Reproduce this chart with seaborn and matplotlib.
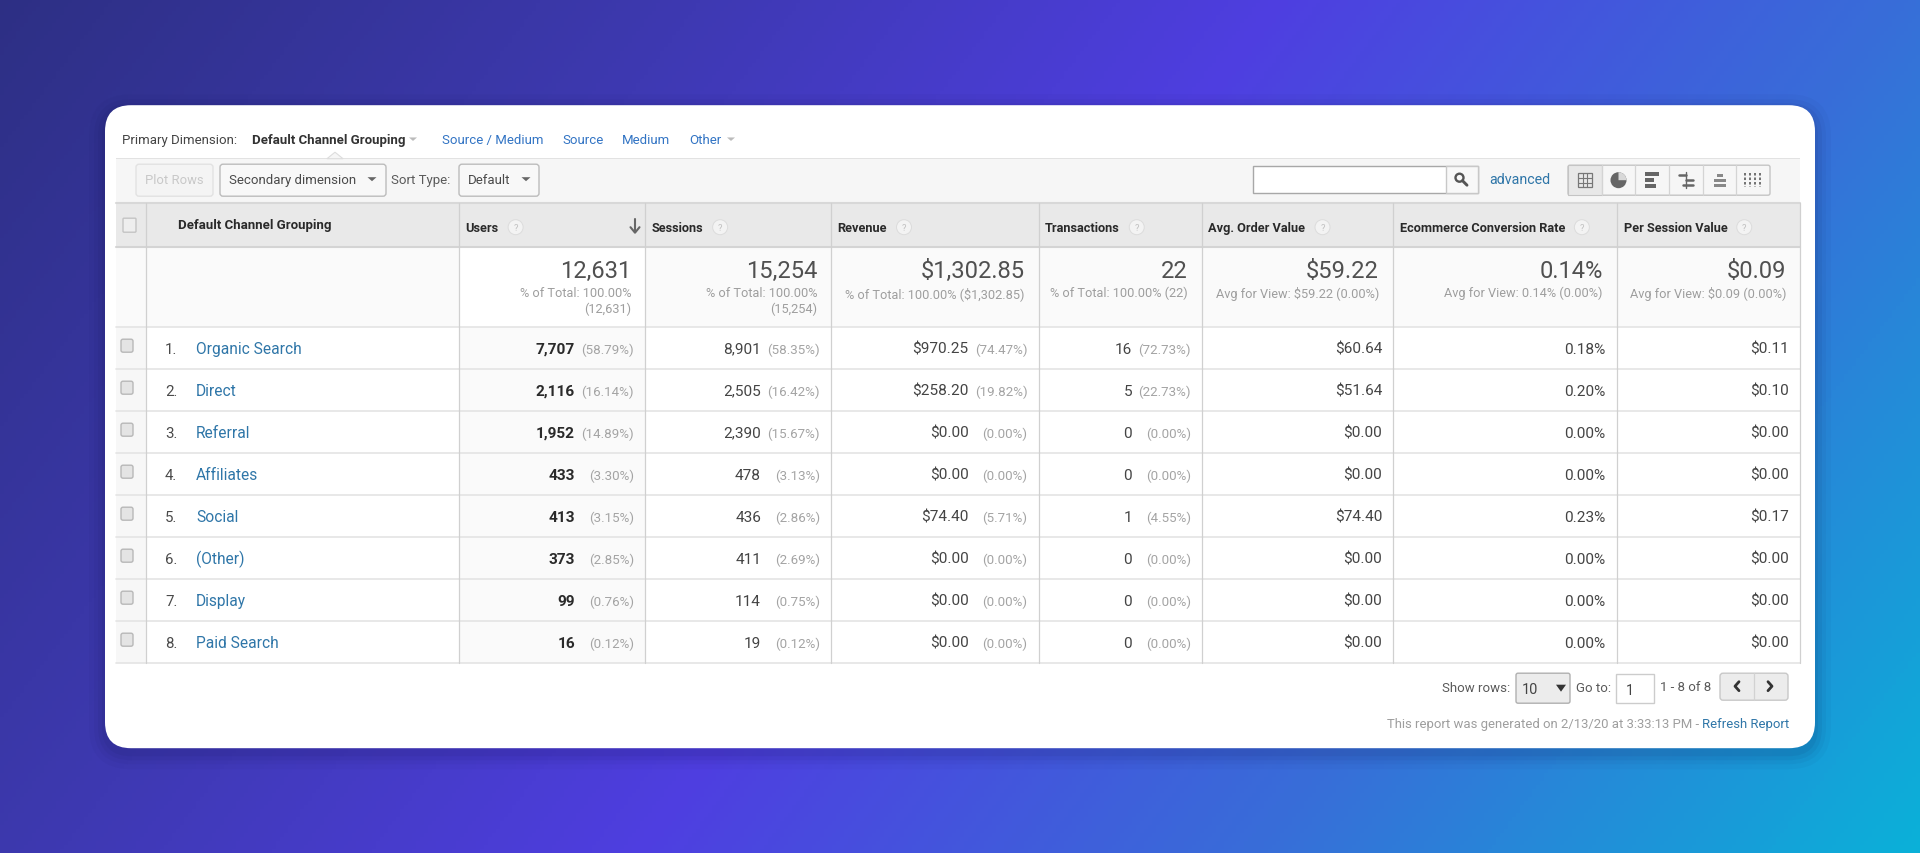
import matplotlib
matplotlib.use("Agg")
import matplotlib.pyplot as plt
from matplotlib.colors import LinearSegmentedColormap
from matplotlib.patches import Rectangle, FancyBboxPatch, Circle, Polygon, Wedge
import numpy as np
import seaborn as sns

# ---------- data ----------
channels = ["Organic Search", "Direct", "Referral", "Affiliates", "Social", "(Other)", "Display", "Paid Search"]
users = [7707, 2116, 1952, 433, 413, 373, 99, 16]
users_pct = [58.79, 16.14, 14.89, 3.30, 3.15, 2.85, 0.76, 0.12]
sessions = [8901, 2505, 2390, 478, 436, 411, 114, 19]
sessions_pct = [58.35, 16.42, 15.67, 3.13, 2.86, 2.69, 0.75, 0.12]
revenue = [970.25, 258.20, 0, 0, 74.40, 0, 0, 0]
revenue_pct = [74.47, 19.82, 0, 0, 5.71, 0, 0, 0]
transactions = [16, 5, 0, 0, 1, 0, 0, 0]
transactions_pct = [72.73, 22.73, 0, 0, 4.55, 0, 0, 0]
avg_order = [60.64, 51.64, 0, 0, 74.40, 0, 0, 0]
conv_rate = [0.18, 0.20, 0, 0, 0.23, 0, 0, 0]
per_session = [0.11, 0.10, 0, 0, 0.17, 0, 0, 0]
headers = ["Users", "Sessions", "Revenue", "Transactions", "Avg. Order Value",
           "Ecommerce Conversion Rate", "Per Session Value"]
totals = ["12,631", "15,254", "$1,302.85", "22", "$59.22", "0.14%", "$0.09"]
totals_sub = [["% of Total: 100.00%", "(12,631)"], ["% of Total: 100.00%", "(15,254)"],
              ["% of Total: 100.00% ($1,302.85)"], ["% of Total: 100.00% (22)"],
              ["Avg for View: $59.22 (0.00%)"], ["Avg for View: 0.14% (0.00%)"],
              ["Avg for View: $0.09 (0.00%)"]]

# ---------- styles ----------
sns.set_theme(style="white")
plt.rcParams["font.family"] = ["Roboto", "DejaVu Sans"]
W, H = 1920, 854
BLUE = "#2f76a8"
LINK = "#3274c4"
DARK = "#444444"
GREY = "#a4a4a4"
LINE = "#e4e4e4"
VLINE = "#d0d0d0"


def px(size):
    return size * 0.72


fig = plt.figure(figsize=(W / 100, H / 100), dpi=100)

# backdrop gradient
bg_ax = fig.add_axes([0, 0, 1, 1])
gx, gy = np.meshgrid(np.linspace(0, 1, 480), np.linspace(0, 1, 214))
bg_field = 0.75 * gx + 0.25 * gy
bg_cmap = LinearSegmentedColormap.from_list("bg", [
    (0.00, "#2d2f84"), (0.25, "#3c38ad"), (0.50, "#4e3ee0"),
    (0.75, "#376ed8"), (1.00, "#0ab0d8")])
sns.heatmap(bg_field, ax=bg_ax, cmap=bg_cmap, vmin=0, vmax=1, cbar=False,
            xticklabels=False, yticklabels=False, rasterized=True)

ax = fig.add_axes([0, 0, 1, 1], facecolor="none")
ax.set_xlim(0, W)
ax.set_ylim(H - 1.2, -1.2)
ax.axis("off")


def rect(x0, y0, x1, y1, fc="none", ec="none", lw=0, z=2, **kw):
    ax.add_patch(Rectangle((x0, y0), x1 - x0, y1 - y0, fc=fc, ec=ec, lw=lw, zorder=z, **kw))


def rbox(x0, y0, x1, y1, r=3, fc="white", ec="#cccccc", lw=1, z=3, alpha=None):
    ax.add_patch(FancyBboxPatch((x0 + r, y0 + r), x1 - x0 - 2 * r, y1 - y0 - 2 * r,
                                boxstyle=f"round,pad={r},rounding_size={r}",
                                fc=fc, ec=ec, lw=lw, zorder=z, alpha=alpha))


def txt(x, y, s, size=13, color=DARK, ha="left", weight="normal", z=5):
    return ax.text(x, y, s, fontsize=px(size), color=color, ha=ha, va="center",
                   fontweight=weight, zorder=z, family=["Roboto", "DejaVu Sans"])


def caret(x, y, w=5, h=5, color="#666666", up=False):
    d = -h if up else h
    ax.add_patch(Polygon([(x - w, y - d / 2), (x + w, y - d / 2), (x, y + d / 2)],
                         closed=True, fc=color, ec="none", zorder=6))


# card with shadow
for grow, a in [(16, 0.03), (11, 0.04), (7, 0.05), (3, 0.06)]:
    rbox(105 - grow, 105 - grow + 5, 1815 + grow, 748 + grow + 5, r=26 + grow,
         fc="#101040", ec="none", lw=0, z=1, alpha=a)
rbox(105, 105, 1815, 748, r=26, fc="white", ec="none", lw=0, z=2)

# geometry of the table
col_x = [459, 645, 831, 1038.5, 1202, 1393, 1617, 1800]
left, chk, top_bar, head_top, head_bot, tot_bot, row_h = 116, 146, 158, 203, 247, 327, 42
bottom = tot_bot + row_h * len(channels)

# primary dimension row
txt(122, 139, "Primary Dimension:", 13.2, "#444444")
txt(252, 139, "Default Channel Grouping", 13.2, "#333333", weight="bold")
caret(413, 139, 4, 3.5, "#bbbbbb")
for x, s in [(442, "Source / Medium"), (562, "Source"), (622, "Medium"), (689, "Other")]:
    txt(x, 139, s, 13.2, LINK)
caret(731, 139, 4, 3.5, "#bbbbbb")

# toolbar
rect(left, top_bar, col_x[-1], head_top, fc="#f6f6f6", z=3)
rect(left, top_bar - 0.5, col_x[-1], top_bar + 0.5, fc="#e2e2e2", z=4)
ax.add_patch(Polygon([(327, 158.5), (335, 152), (343, 158.5)], closed=True, fc="#f6f6f6",
                     ec="#dddddd", lw=0.8, zorder=4))
rbox(136, 164, 213, 196, fc="#f4f4f4", ec="#e2e2e2")
txt(174.5, 179.5, "Plot Rows", 13, "#c8c8c8", ha="center")
rbox(220, 164, 386, 196, fc="#f8f8f8", ec="#bcbcbc")
txt(229, 179.5, "Secondary dimension", 13.2, "#4a4a4a")
caret(372, 179, 4.5, 4, "#666666")
txt(391, 179.5, "Sort Type:", 13.2, "#5a5a5a")
rbox(459, 164, 539, 196, fc="#f8f8f8", ec="#bcbcbc")
txt(468, 179.5, "Default", 13.2, "#4a4a4a")
caret(526, 179, 4.5, 4, "#666666")

# search box
rect(1253, 166, 1478, 193, fc="white", ec="#a8a8a8", lw=1, z=4)
rect(1446, 166, 1478, 193, fc="#f8f8f8", ec="#c8c8c8", lw=1, z=4)
ax.add_patch(Circle((1459.5, 177.5), 4, fc="none", ec="#555555", lw=1.7, zorder=6))
ax.plot([1462.5, 1467], [180.5, 185], color="#555555", lw=2.1, zorder=6)
txt(1489, 179, "advanced", 14.2, BLUE)

# view buttons
view_x = np.linspace(1568, 1770, 7)
rbox(1568, 165, 1770, 195, r=2, fc="#f6f6f6", ec="#c4c4c4")
rect(view_x[0], 165, view_x[1], 195, fc="#e8e8e8", ec="#c4c4c4", lw=0.8, z=4)
for vx in view_x[1:-1]:
    ax.plot([vx, vx], [165, 195], color="#d4d4d4", lw=0.9, zorder=5)
cx = (view_x[:-1] + view_x[1:]) / 2
# grid icon
rect(cx[0] - 7, 173, cx[0] + 7, 187, fc="none", ec="#777777", lw=0.9, z=6)
for d in (-2.3, 2.3):
    ax.plot([cx[0] + d] * 2, [173, 187], color="#777777", lw=0.8, zorder=6)
for yy in (177.7, 182.3):
    ax.plot([cx[0] - 7, cx[0] + 7], [yy, yy], color="#777777", lw=0.8, zorder=6)
# pie icon
ax.add_patch(Circle((cx[1], 180), 8, fc="#666666", ec="none", zorder=6))
ax.add_patch(Wedge((cx[1], 180), 8, 270, 360, fc="#d8d8d8", ec="none", zorder=7))
# bar icon
for yy, w in [(174, 14), (180, 9), (186, 11)]:
    rect(cx[2] - 7, yy - 2, cx[2] - 7 + w, yy + 2, fc="#666666", z=6)
# compare icon
ax.plot([cx[3], cx[3]], [172, 188], color="#666666", lw=1, zorder=6)
for yy, a, b in [(175, -7, 0), (180, 0, 7), (185, -3, 7)]:
    ax.plot([cx[3] + a, cx[3] + b], [yy, yy], color="#666666", lw=1.8, zorder=6)
# pivot icon
for yy, w in [(175, 3), (180, 6), (185, 6)]:
    rect(cx[4] - w, yy - 1.4, cx[4] + w, yy + 1.4, fc="#888888", z=6)
# term icon
for i in range(4):
    xx = cx[5] - 8 + i * 5
    ax.plot([xx, xx], [173, 187], color="#666666", lw=1.3, ls=(0, (1.4, 1.1)), zorder=6)

# table shading
rect(left, head_top, col_x[-1], head_bot, fc="#e9e9e9", z=3)
rect(left, head_bot, col_x[-1], tot_bot, fc="#fafafa", z=3)
rect(col_x[0], head_bot, col_x[1], tot_bot, fc="white", z=3)
rect(left, tot_bot, chk, bottom, fc="#f7f7f7", z=3)
rect(col_x[0], tot_bot, col_x[1], bottom, fc="#fafafa", z=3)

# rules
for yy, c, w in [(head_top, "#d8d8d8", 1.5), (head_bot, "#d4d4d4", 1.5), (tot_bot, LINE, 1.2)]:
    ax.plot([left, col_x[-1]], [yy, yy], color=c, lw=w, zorder=4)
for i in range(1, len(channels) + 1):
    ax.plot([left, col_x[-1]], [tot_bot + i * row_h] * 2, color=LINE, lw=1.2, zorder=4)
for xx in [chk] + col_x:
    ax.plot([xx, xx], [head_top, bottom], color=VLINE, lw=0.9, zorder=4)

# header
rbox(123, 218, 136, 232, r=1, fc="#eeeeee", ec="#c4c4c4")
txt(178, 224.7, "Default Channel Grouping", 13.2, "#2a2a2a", weight="bold")
fig.canvas.draw()
renderer = fig.canvas.get_renderer()
for i, h in enumerate(headers):
    tx = col_x[i] + 6.5
    t = txt(tx, 227, h, 12.7, "#2a2a2a", weight="bold")
    right = t.get_window_extent(renderer).x1
    hx = right + 17
    ax.add_patch(Circle((hx, 227), 7.5, fc="#f3f3f3", ec="#dcdcdc", lw=0.7, zorder=5))
    txt(hx, 227, "?", 9.5, "#c0c0c0", ha="center")
# sort arrow
ax.plot([635, 635], [219, 232], color="#666666", lw=1.5, zorder=6)
ax.plot([630.5, 635, 639.5], [227, 232.5, 227], color="#666666", lw=1.5, zorder=6)

# totals
for i, (tv, subs) in enumerate(zip(totals, totals_sub)):
    rx = col_x[i + 1] - 14
    txt(rx, 270, tv, 23.8, "#505050", ha="right")
    for k, s in enumerate(subs):
        txt(rx, 292.5 + 15.5 * k, s, 12.8, "#9e9e9e", ha="right")


# body rows
def pair(i, col, value, pct, weight="normal", color=DARK):
    yc = tot_bot + row_h * i + 21.5
    txt(col_x[col + 1] - 70, yc, value, 15.4, color, ha="right", weight=weight)
    txt(col_x[col + 1] - 11, yc + 0.5, f"({pct:.2f}%)", 13.4, GREY, ha="right")


for i, ch in enumerate(channels):
    yc = tot_bot + row_h * i + 21.5
    rbox(121, yc - 9.5, 133, yc + 3.5, r=2, fc="#e4e4e4", ec="#b8b8b8")
    txt(165, yc, f"{i + 1}.", 15, "#4a4a4a")
    txt(196, yc, ch, 15.5, BLUE)
    pair(i, 0, f"{users[i]:,}", users_pct[i], weight="bold", color="#2a2a2a")
    pair(i, 1, f"{sessions[i]:,}", sessions_pct[i])
    pair(i, 2, f"${revenue[i]:,.2f}", revenue_pct[i])
    pair(i, 3, f"{transactions[i]:,}", transactions_pct[i])
    txt(col_x[5] - 11, yc, f"${avg_order[i]:.2f}", 15.4, DARK, ha="right")
    txt(col_x[6] - 11.5, yc, f"{conv_rate[i]:.2f}%", 15.4, DARK, ha="right")
    txt(col_x[7] - 11, yc, f"${per_session[i]:.2f}", 15.4, DARK, ha="right")

# footer
txt(1510, 687, "Show rows:", 13.2, "#5a5a5a", ha="right")
rbox(1516, 673, 1570, 703, r=2, fc="#ececec", ec="#b0b0b0")
txt(1522, 689, "10", 14.5, "#444444")
caret(1561, 688, 5, 7, "#333333")
txt(1576, 687, "Go to:", 13.2, "#5a5a5a")
rect(1616, 674, 1654, 703, fc="white", ec="#cccccc", lw=1, z=4)
txt(1626, 690, "1", 14, "#444444")
txt(1660, 686, "1 - 8 of 8", 13.2, "#5a5a5a")
rbox(1720, 673, 1788, 700, r=3, fc="#ececec", ec="#c8c8c8")
ax.plot([1754, 1754], [673, 700], color="#d2d2d2", lw=0.9, zorder=5)
ax.plot([1739, 1735, 1739], [681.5, 686, 690.5], color="#333333", lw=2, zorder=6)
ax.plot([1768, 1772, 1768], [681.5, 686, 690.5], color="#333333", lw=2, zorder=6)
refresh = txt(1789, 723, "Refresh Report", 13.15, BLUE, ha="right")
fig.canvas.draw()
rx0 = refresh.get_window_extent(fig.canvas.get_renderer()).x0
txt(rx0 - 3, 723, "This report was generated on 2/13/20 at 3:33:13 PM -", 13.15, "#9e9e9e", ha="right")

fig.savefig("out.png", dpi=100)
